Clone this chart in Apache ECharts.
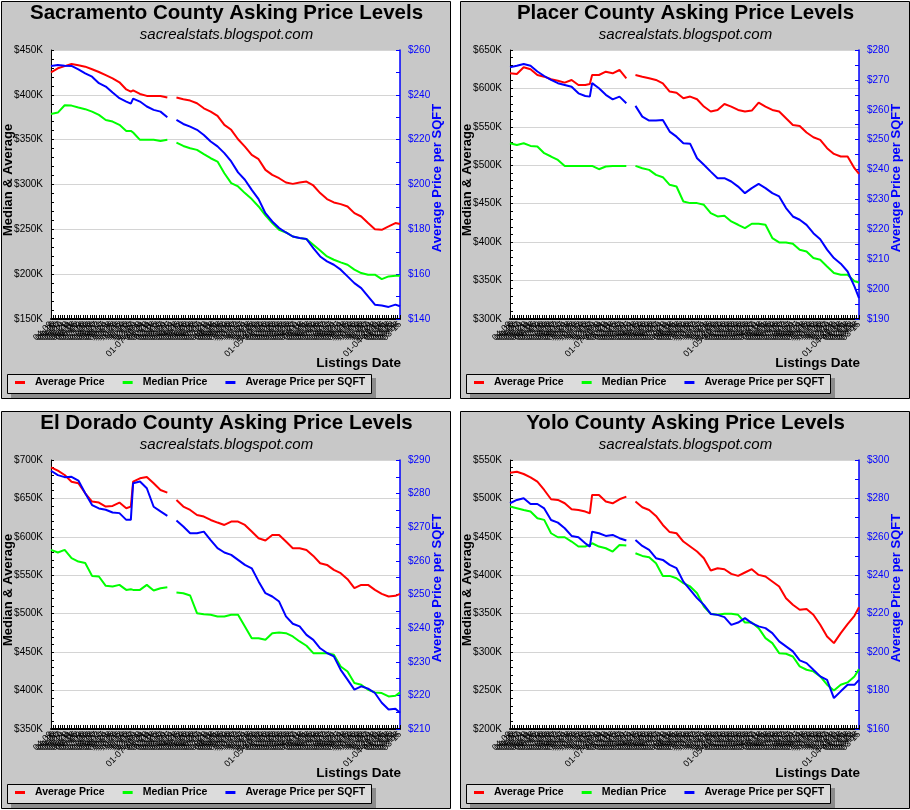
<!DOCTYPE html>
<html><head><meta charset="utf-8">
<script src="https://cdn.jsdelivr.net/npm/echarts@6/dist/echarts.min.js"></script>
<style>html,body{margin:0;padding:0;background:#fff}#c{width:910px;height:810px}</style>
</head><body><div id="c"></div>
<script>
// ---------- DATA ----------
const dates = [
"04-09","04-16","04-23","04-30","05-07","05-14","05-21","05-28","06-04","06-11","06-18","06-25",
"07-02","07-09","07-16","07-23","07-30","08-06","08-13","08-20","08-27","09-03","09-10","09-17","09-24",
"10-01","10-08","10-15","10-22","10-29","11-05","11-12","11-19","11-26","12-03","12-10","12-17","12-24","12-31",
"01-07-2008","01-14","01-21","01-28","02-04","02-11","02-18","02-25","03-03","03-10","03-17","03-24","03-31",
"04-07","04-14","04-21","04-28","05-05","05-12","05-19","05-26","06-02","06-09","06-16","06-23","06-30",
"07-07","07-14","07-21","07-28","08-04","08-11","08-18","08-25","09-01","09-08","09-15","09-22","09-29",
"10-06","10-13","10-20","10-27","11-03","11-10","11-17","11-24","12-01","12-08","12-15","12-22","12-29",
"01-05-2009","01-12","01-19","01-26","02-02","02-09","02-16","02-23","03-02","03-09","03-16","03-23","03-30",
"04-06","04-13","04-20","04-27","05-04","05-11","05-18","05-25","06-01","06-08","06-15","06-22","06-29",
"07-06","07-13","07-20","07-27","08-03","08-10","08-17","08-24","08-31","09-07","09-14","09-21","09-28",
"10-05","10-12","10-19","10-26","11-02","11-09","11-16","11-23","11-30","12-07","12-14","12-21","12-28",
"01-04-2010","01-11","01-18","01-25","02-01","02-08","02-15","02-22","03-01","03-08","03-15"];

// week index (position in dates) of each sampled value; null value = gap in the data
const weeks = [0,3,6,9,12,15,18,21,24,27,30,33,35,36,39,42,45,48,51,53,55,58,61,64,67,70,73,76,79,82,85,88,91,94,97,100,103,106,109,112,115,118,121,124,127,130,133,136,139,142,145,148,151,153];

// Sacramento ($K, $K, $/sqft)
const sacAvg = [425.1,429.6,432,434.4,433,431.4,428.5,425.5,422,418.4,414,406,403.6,405,401,398.8,398.8,398.8,397,null,397,395,393.6,390.6,385,381.3,376.5,366.5,361,350.5,342.3,333,328.2,316.3,310.8,307,302.2,300.7,302.2,303.3,298.9,290.4,283.7,280,278.1,275.5,268.1,264.3,257,250.2,249.5,253.2,257,256];
const sacMed = [378.7,380.2,388.4,388,385.8,384,381.3,377.6,372,370.2,366.5,359.8,359.8,358,349.8,349.8,349.8,348.6,349.8,null,346.8,343,340.4,338.6,333.8,329.3,325.6,312.6,301.5,297.8,290.4,283.7,275.5,265.5,257,249.5,246.5,242,240.2,239.1,232.8,226.5,219.8,216.1,213.1,210.5,205,201.2,199.4,199.4,194.5,197.5,198.2,198.2];
const sacSqft = [252.9,253.3,253,252.9,251.4,249.6,248.1,245.2,243.7,241,238.5,237,236.1,238.3,237,234.8,233.3,232.5,230,null,228.8,227,225.8,224.4,222.1,219.2,217,214,210.3,205.4,202.1,197.6,193.5,187.2,183.5,180.6,178.6,176.8,176.1,175.7,171.6,167.9,165.7,164.2,162,159,156,153.8,150.1,146.4,146,145.4,146.4,145.7];

// Placer
const plaAvg = [619.7,618.8,627.5,624.9,617.5,615.3,611.9,610.1,607.5,611,604.5,604.5,605.8,617.5,617.5,621.8,619.7,624,613.2,null,617.5,615.3,613.2,611,606.7,595.9,594.5,587.2,589.4,585.9,576.4,569.9,572,579.8,576.4,572,569.9,571.2,581.6,576.4,572,569.9,561.2,552.5,551.2,542.6,536.5,533,522.2,514.8,511.4,511.4,496.2,488.8];
const plaMed = [528.7,526.5,528.7,525.2,524.4,515.7,511.4,507,499.2,499.2,499.2,499.2,499.2,499.2,494.9,498.4,499.2,499.2,499.2,null,499.2,496.2,494,487.5,484.5,474.6,472.4,452.9,450.8,450.8,448.6,437.7,433.4,434.3,426.9,422.6,418.2,423.9,423.9,422.6,405.3,399.6,399.6,397.9,390,387.9,379.3,377.1,368.4,359.8,357.6,357.6,349,347.6];
const plaSqft = [274.2,274.7,275.3,274.7,272.8,271.3,270,268.9,268.3,267.7,265.5,264.6,264.4,268.9,267.2,265,263.5,264.4,262.2,null,261.3,257.7,256.4,256.4,256.6,252.7,251,248.8,248.6,243.8,241.6,239.3,237.1,237.1,236,234.3,232.1,233.8,235.2,233.8,232.1,231,227.1,224.3,223.2,221.5,218.7,216.7,213.2,210.4,208.5,205.9,200.9,197];

// El Dorado
const edAvg = [690.5,686.1,680.5,671.8,669.7,656.7,645.9,644.6,639.4,640.2,644.6,637.2,639.4,671.8,676.2,678,669.7,661,657.5,null,648,639.4,635,628.5,626.4,622,618.6,615.5,619.9,619.9,615.5,606.9,598.2,595.2,602.5,602.5,593.9,585.2,585.2,583,575.2,565.7,563.5,557,552.7,544.9,533.2,537.5,537.5,531,525.9,522.4,523.3,525.9];
const edMed = [583,579.6,583,572.2,567.9,566,549.2,548.4,536.3,535.4,537.5,531,531.9,531,531,537.5,530.2,533.2,534.5,null,527.6,526.7,523.7,500.7,499.4,498.6,496.4,496.4,498.6,498.6,483.4,468.2,468.2,466.1,474.7,475.6,474.7,470.4,463.9,458.3,448.7,448.7,448.7,446.6,431.4,424.9,409.8,407.6,401.1,397.6,396.8,392.4,393.3,397.6];
const edSqft = [286.8,285.5,284.9,285,283.9,280.1,276.6,275.6,275.2,274.4,274.2,272.2,272.2,283.1,283.6,281.6,276.1,274.7,273.4,null,272,270.2,268.2,268.2,268.7,266.2,263.8,262.5,261.8,260.3,258.8,257.8,253.9,250.4,249.4,247.9,243.5,241.3,240.5,238,236.5,234,232.6,231.6,227.6,224.7,221.7,222.7,222,220.7,217.8,215.8,216,214.8];

// Yolo
const yoAvg = [533.5,534.8,531.8,527.5,521.8,511,498.9,498,493.7,485.9,485,482.9,480.7,504.5,504.5,495.9,493.7,498.9,502.3,null,495.9,488.5,485,477.2,465.5,456.2,454.7,443.9,437.4,430.9,422.2,406.2,409.2,407.9,401.8,399.2,403.6,407.9,400.5,398.4,391.9,385.4,370.2,361.6,355.1,356,348.6,335.6,320.4,311.7,324.7,336.5,347.3,358.5];
const yoMed = [489.4,487.2,485,482.9,474.2,472.1,454.7,449.5,449.5,443.9,437.4,437.4,439.5,441.7,437.4,435.2,430.9,439.5,438.7,null,428.7,425.2,423.5,415.7,399.2,399.2,396.2,389.7,385.4,376.7,359.4,350,348.6,350,350,348.6,338.6,338.6,331.2,318.2,311.7,298.7,297.9,294.4,281.4,277.1,275,268.4,257.6,250.2,257.6,260.6,268.4,277.9];
const yoSqft = [277.5,279.2,280.1,277.1,277.1,274.8,268.8,267.4,264.5,260.5,259.8,256.7,254.9,262.7,261.9,260.5,261,259.3,258.1,null,258.4,255.3,253.2,248.9,248,245.4,243.7,236.7,232.4,228.1,224.6,219.9,219.4,218.2,214.2,215.4,217.7,215.1,213.4,212.5,209.9,205.6,203,200.4,195.7,194.3,190.8,187.4,185.6,176.1,179.6,183,183,185.6];

const titles = ["Sacramento County Asking Price Levels","Placer County Asking Price Levels","El Dorado County Asking Price Levels","Yolo County Asking Price Levels"];
const seriesNames = ["Average Price","Median Price","Average Price per SQFT"];
// axis ranges [min, max, step]
const leftRange = [[150,450,50],[300,650,50],[350,700,50],[200,550,50]];
const rightRange = [[140,260,20],[190,280,10],[210,290,10],[160,300,20]];
const panelData = [[sacAvg,sacMed,sacSqft],[plaAvg,plaMed,plaSqft],[edAvg,edMed,edSqft],[yoAvg,yoMed,yoSqft]];

// ---------- CHART ----------
const FONT = "Liberation Sans, Arial, sans-serif";
const COLORS = ["#ff0000","#00ff00","#0000ff"];
const origins = [[0,0],[459,0],[0,410],[459,410]];
const option = {animation:false, textStyle:{fontFamily:FONT}, grid:[], xAxis:[], yAxis:[], series:[], legend:[], graphic:[]};

origins.forEach(([ox,oy], i) => {
  option.graphic.push(
    {type:'rect', z:-100, shape:{x:ox+1.5,y:oy+1.5,width:449,height:397}, style:{fill:'#c8c8c8',stroke:'#000',lineWidth:1}},
    {type:'rect', z:-90, shape:{x:ox+11,y:oy+378,width:365,height:20}, style:{fill:'#8c8c8c'}},
    {type:'rect', z:-80, shape:{x:ox+7.5,y:oy+374.5,width:364,height:19}, style:{fill:'#dcdcdc',stroke:'#000',lineWidth:1}},
    {type:'text', x:ox+226.5, y:oy+13, style:{text:titles[i], fontFamily:FONT, fontSize:20.5, fontWeight:'bold', fill:'#000', align:'center', verticalAlign:'middle', textAlign:'center', textVerticalAlign:'middle'}},
    {type:'text', x:ox+226.5, y:oy+35, style:{text:'sacrealstats.blogspot.com', fontFamily:FONT, fontSize:15, fontStyle:'italic', fill:'#000', align:'center', verticalAlign:'middle', textAlign:'center', textVerticalAlign:'middle'}},
    {type:'text', x:ox+8, y:oy+180, rotation:Math.PI/2, style:{text:'Median & Average', fontFamily:FONT, fontSize:13, fontWeight:'bold', fill:'#000', align:'center', verticalAlign:'middle', textAlign:'center', textVerticalAlign:'middle'}},
    {type:'text', x:ox+437.5, y:oy+178, rotation:Math.PI/2, style:{text:'Average Price per SQFT', fontFamily:FONT, fontSize:13, fontWeight:'bold', fill:'#0000ff', align:'center', verticalAlign:'middle', textAlign:'center', textVerticalAlign:'middle'}},
    {type:'text', x:ox+401, y:oy+363, style:{text:'Listings Date', fontFamily:FONT, fontSize:13.5, fontWeight:'bold', fill:'#000', align:'right', verticalAlign:'middle', textAlign:'right', textVerticalAlign:'middle'}}
  );
  option.grid.push({left:ox+51, top:oy+50, width:349, height:269, show:true, backgroundColor:'#fff', borderWidth:0});
  option.xAxis.push({type:'category', gridIndex:i, data:dates, boundaryGap:false,
    axisLine:{lineStyle:{color:'#000',width:2}},
    axisTick:{inside:true,length:4,interval:0,lineStyle:{color:'#000'}},
    axisLabel:{interval:0, rotate:45, fontSize:9, color:'#000', margin:4, fontFamily:FONT},
    splitLine:{show:false}});
  const [lmin,lmax,lstep] = leftRange[i];
  option.yAxis.push({type:'value', gridIndex:i, position:'left', min:lmin, max:lmax, interval:lstep,
    axisLine:{show:true, lineStyle:{color:'#000',width:1}},
    axisTick:{show:true, inside:true, length:3, lineStyle:{color:'#000'}},
    minorTick:{show:true, splitNumber:5, length:3, lineStyle:{color:'#000'}},
    splitLine:{show:true, lineStyle:{color:'#d4d4d4', width:1}},
    axisLabel:{color:'#000', fontSize:10, margin:8, fontFamily:FONT, formatter:v=>'$'+v+'K'}});
  const [rmin,rmax,rstep] = rightRange[i];
  option.yAxis.push({type:'value', gridIndex:i, position:'right', min:rmin, max:rmax, interval:rstep,
    axisLine:{show:true, lineStyle:{color:'#0000ff',width:1.5}},
    axisTick:{show:true, inside:true, length:4, lineStyle:{color:'#0000ff'}},
    minorTick:{show:true, splitNumber:2, length:4, lineStyle:{color:'#0000ff'}},
    splitLine:{show:false},
    axisLabel:{color:'#0000ff', fontSize:10, margin:8, fontFamily:FONT, formatter:v=>'$'+v}});
  panelData[i].forEach((vals, s) => {
    option.series.push({type:'line', name:seriesNames[s], xAxisIndex:i, yAxisIndex: s===2 ? 2*i+1 : 2*i,
      data: weeks.map((w,k)=>[w, vals[k]]), showSymbol:false, connectNulls:false,
      lineStyle:{color:COLORS[s], width:2}, itemStyle:{color:COLORS[s]}, emphasis:{disabled:true}, silent:true});
  });
  option.legend.push({left:ox+15, top:oy+377, padding:0, itemWidth:10, itemHeight:3, itemGap:18, icon:'rect',
    selectedMode:false, data:seriesNames,
    textStyle:{fontSize:10.5, fontWeight:'bold', color:'#000', fontFamily:FONT, padding:[0,0,0,5]}});
});

const chart = echarts.init(document.getElementById('c'), null, {renderer:'canvas'});
chart.setOption(option);
</script>
</body></html>
